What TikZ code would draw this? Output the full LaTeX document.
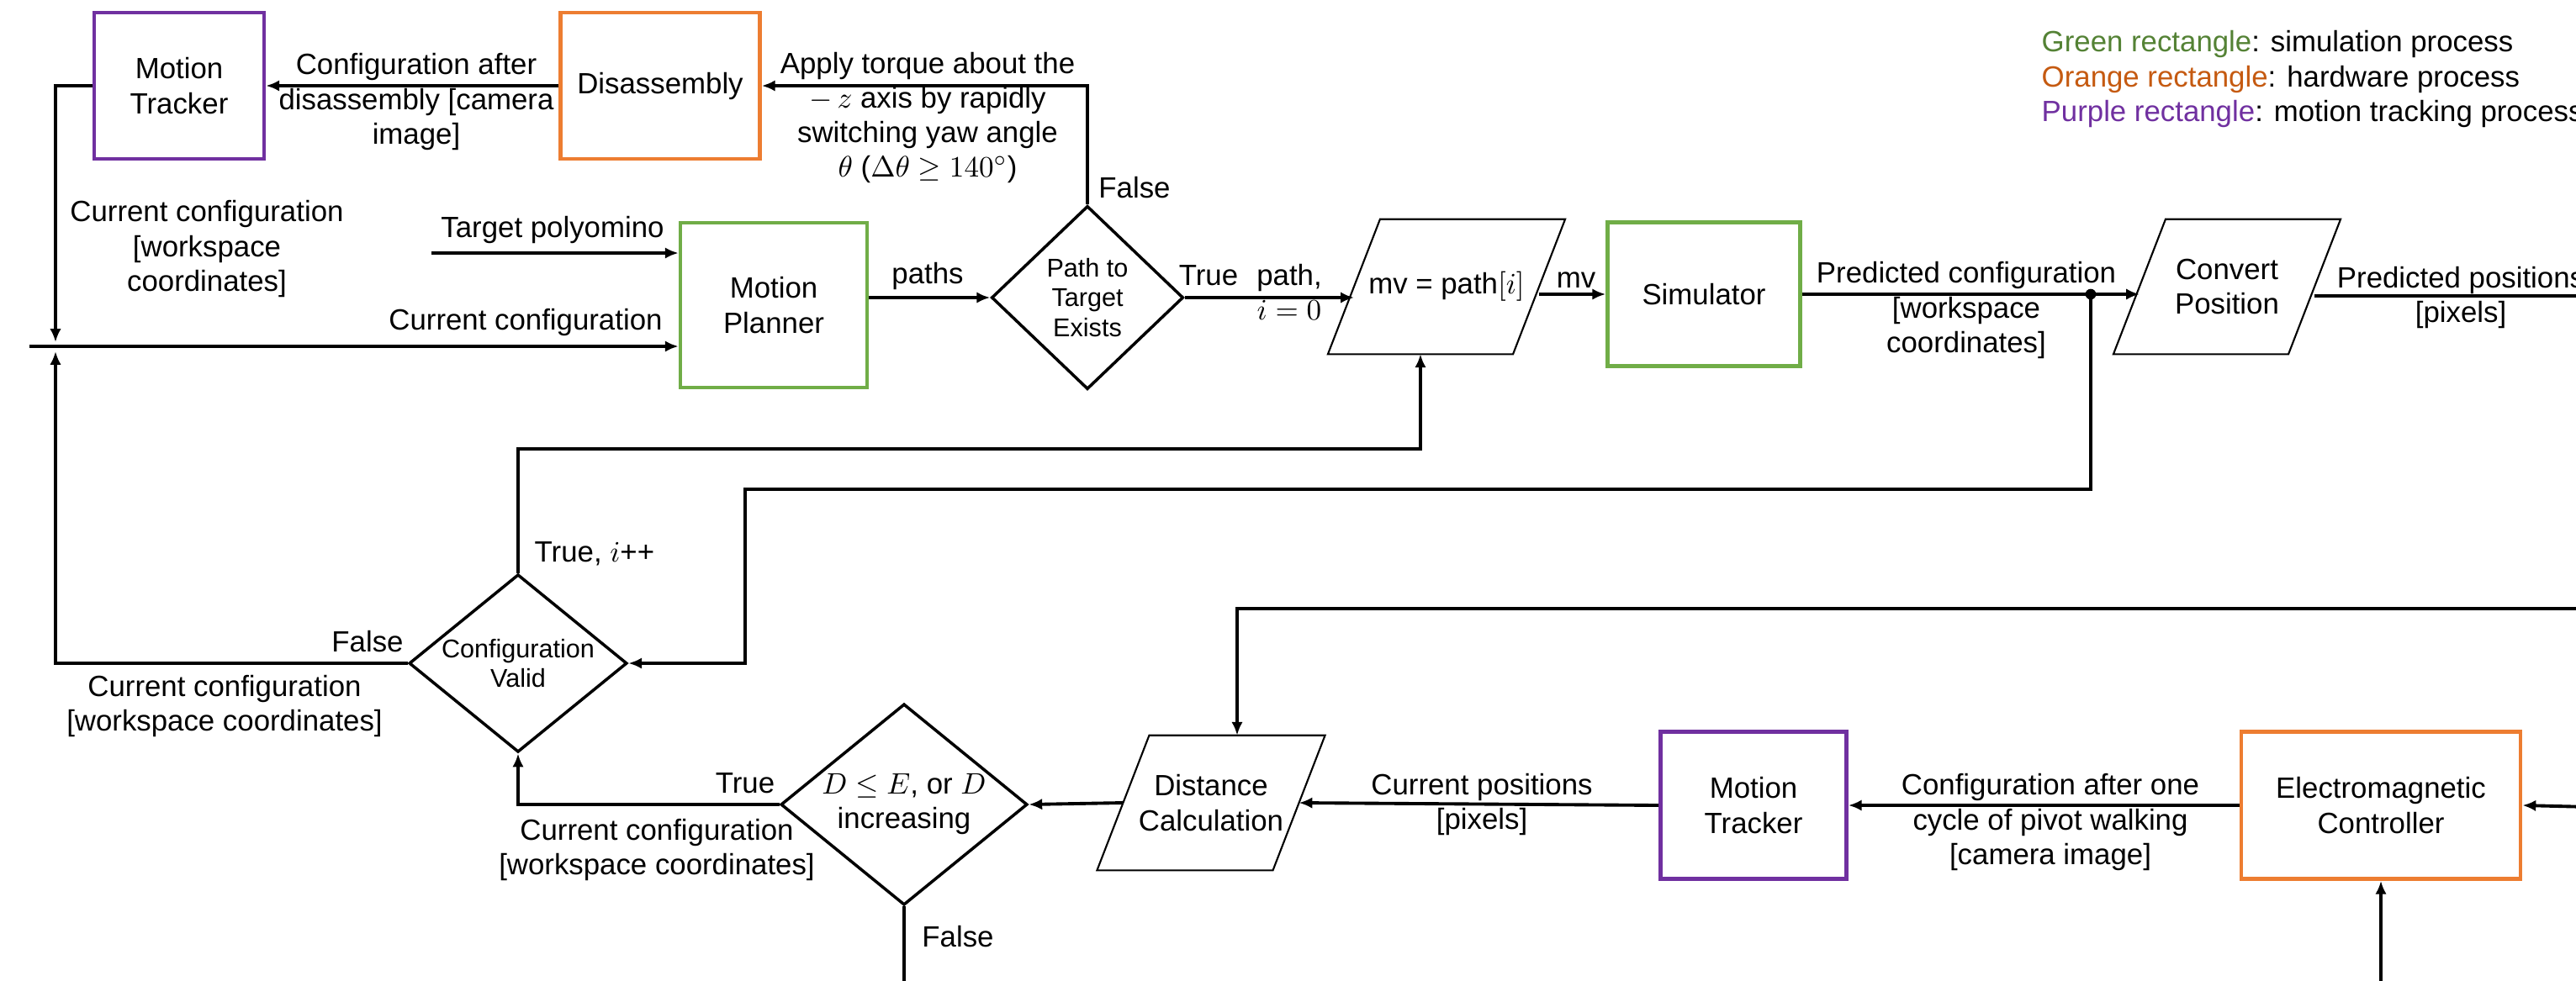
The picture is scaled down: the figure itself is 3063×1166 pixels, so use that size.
\documentclass[tikz,border=0pt]{standalone}
\usepackage{fontspec}
\setmainfont{Liberation Sans}
\usetikzlibrary{shapes.geometric,arrows.meta}

\definecolor{boxgreen}{RGB}{112,173,71}
\definecolor{boxorange}{RGB}{237,125,49}
\definecolor{boxpurple}{RGB}{112,48,160}
\definecolor{txtgreen}{RGB}{84,130,53}
\definecolor{txtorange}{RGB}{197,90,17}

\newcommand\labelsize{\fontsize{9.9pt}{11.7pt}\selectfont}
\newcommand\smallsize{\fontsize{8.7pt}{10pt}\selectfont}

\tikzset{
  simbox/.style={draw=boxgreen, line width=1.3pt, align=center, inner sep=0pt},
  hwbox/.style={draw=boxorange, line width=1.3pt, align=center, inner sep=0pt},
  trackbox/.style={draw=boxpurple, line width=1.3pt, align=center, inner sep=0pt},
  decision/.style={diamond, draw, line width=1pt, align=center, inner sep=-2pt, font=\smallsize},
  iobox/.style={align=center, inner sep=0pt, outer sep=0pt, minimum height=1.605cm},
  ioline/.style={line width=0.6pt},
  arrowline/.style={line width=1.1pt, -{Latex[length=4.5pt,width=3.8pt]}},
  plainline/.style={line width=1.1pt},
  lbl/.style={align=center, inner sep=0pt}
}

% slanted frame round an input/output node
\newcommand\ioframe[1]{
\draw[ioline] ([xshift=-0.31cm]#1.south west) -- ([xshift=-0.31cm]#1.south east)
  -- ([xshift=0.31cm]#1.north east) -- ([xshift=0.31cm]#1.north west) -- cycle;
}

\begin{document}
\begin{tikzpicture}[x=0.01cm, y=-0.01cm, font=\labelsize]

\useasboundingbox (0,0) rectangle (3063,1166);
\clip (0,0) rectangle (3063,1166);

% Top row
\node[trackbox, minimum width=2.02cm, minimum height=1.74cm] (trackT) at (213,102) {Motion\\Tracker};
\node[hwbox, minimum width=2.37cm, minimum height=1.74cm] (disas) at (785,102) {Disassembly};
\node[simbox, minimum width=2.22cm, minimum height=1.96cm] (planner) at (920,363) {Motion\\Planner};
\node[decision, minimum width=2.28cm, minimum height=2.18cm] (pathDia) at (1293,354) {Path to\\Target\\Exists};
\node[iobox, minimum width=2.20cm] (mvPar) at (1720,341) {mv = path$[i]$};
\node[simbox, minimum width=2.29cm, minimum height=1.71cm] (sim) at (2026,350) {Simulator};
\node[iobox, minimum width=2.08cm] (convPar) at (2648,341) {Convert\\Position};

% Bottom row
\node[decision, minimum width=2.59cm, minimum height=1.84cm] (validDia) at (616,789) {Configuration\\Valid};
\node[decision, font=\labelsize, minimum width=2.93cm, minimum height=2.21cm] (decDia) at (1075,957) {$D \leq E$, or $D$\\increasing};
\node[iobox, minimum width=2.09cm] (distPar) at (1440,955) {Distance\\Calculation};
\node[trackbox, minimum width=2.21cm, minimum height=1.75cm] (trackB) at (2085,958) {Motion\\Tracker};
\node[hwbox, minimum width=3.32cm, minimum height=1.75cm] (emc) at (2831,958) {Electromagnetic\\Controller};

\foreach \n in {mvPar,convPar,distPar}
{
\ioframe{\n}
}

% Legend
\node[lbl, anchor=west, align=left] (legend) at (2427,94)
{\textcolor{txtgreen}{Green rectangle}: simulation process\\
\textcolor{txtorange}{Orange rectangle}: hardware process\\
\textcolor{boxpurple}{Purple rectangle}: motion tracking process};

% Free ends
\coordinate (topIn) at (66,407);
\coordinate (botIn) at (66,418);
\coordinate (leftEnd) at (35,412);
\coordinate (tgtStart) at (513,301);
\coordinate (split) at (2486,350);
\coordinate (loopR) at (886,582);
\coordinate (upTurn) at (616,534);
\coordinate (outPos) at (3080,352);
\coordinate (inTop) at (3080,724);
\coordinate (inRight) at (3080,960);
\coordinate (inBottom) at (2831,1180);
\coordinate (outBot) at (1075,1180);

% Connectors, top
\draw[arrowline] (disas.west) -- (trackT.east);
\draw[arrowline] (trackT.west) -| (topIn);
\draw[arrowline] (leftEnd) -- (leftEnd -| planner.west);
\draw[arrowline] (validDia.west) -| (botIn);
\draw[arrowline] (tgtStart) -- (tgtStart -| planner.west);
\draw[arrowline] (planner.east |- pathDia.west) -- (pathDia.west);
\draw[arrowline] (pathDia.north) |- (disas.east);
\draw[arrowline] (pathDia.east) -- (pathDia.east -| mvPar.west);
\draw[arrowline] (sim.west -| mvPar.east) -- (sim.west);
\draw[arrowline] (sim.east) -- (sim.east -| convPar.west);
\fill (split) circle[radius=1.8pt];
\draw[arrowline] (split) |- (loopR) |- (validDia.east);
\draw[arrowline] (validDia.north) -- (upTurn) -| ([xshift=-0.31cm]mvPar.south);
\draw[plainline] (outPos -| convPar.east) -- (outPos);

% Connectors, bottom
\draw[arrowline] (inTop) -| ([xshift=0.31cm]distPar.north);
\draw[arrowline] (inRight) -- (emc.east);
\draw[arrowline] (inBottom) -- (emc.south);
\draw[arrowline] (emc.west) -- (trackB.east);
\draw[arrowline] (trackB.west) -- (distPar.east);
\draw[arrowline] (distPar.west) -- (decDia.east);
\draw[arrowline] (decDia.west) -| (validDia.south);
\draw[plainline] (decDia.south) -- (outBot);

% Labels
\node[lbl] (lblDisas) at (495,121) {Configuration after\\disassembly [camera\\image]};
\node[lbl] (lblTorque) at (1103,140) {Apply torque about the\\$-\,z$ axis by rapidly\\switching yaw angle\\$\theta$ ($\Delta\theta \geq 140^\circ$)};
\node[lbl] (lblFalseA) at (1349,223) {False};
\node[lbl] (lblCurA) at (246,296) {Current configuration\\{}[workspace\\coordinates]};
\node[lbl] (lblTarget) at (657,273) {Target polyomino};
\node[lbl] (lblCurB) at (625,383) {Current configuration};
\node[lbl] (lblPaths) at (1103,328) {paths};
\node[lbl] (lblTrueA) at (1437,328) {True};
\node[lbl] (lblPath) at (1533,347) {path,\\$i = 0$};
\node[lbl] (lblMv) at (1874,333) {mv};
\node[lbl] (lblPred) at (2338,369) {Predicted configuration\\{}[workspace\\coordinates]};
\node[lbl] (lblPos) at (2926,354) {Predicted positions\\{}[pixels]};
\node[lbl, anchor=west] (lblTrueB) at (635,659) {True, $i$++};
\node[lbl] (lblFalseB) at (437,763) {False};
\node[lbl] (lblCurC) at (267,840) {Current configuration\\{}[workspace coordinates]};
\node[lbl] (lblTrueC) at (886,932) {True};
\node[lbl] (lblCurD) at (781,1011) {Current configuration\\{}[workspace coordinates]};
\node[lbl] (lblFalseC) at (1139,1114) {False};
\node[lbl] (lblCurPos) at (1762,957) {Current positions\\{}[pixels]};
\node[lbl] (lblCycle) at (2438,978) {Configuration after one\\cycle of pivot walking\\{}[camera image]};

\end{tikzpicture}
\end{document}
